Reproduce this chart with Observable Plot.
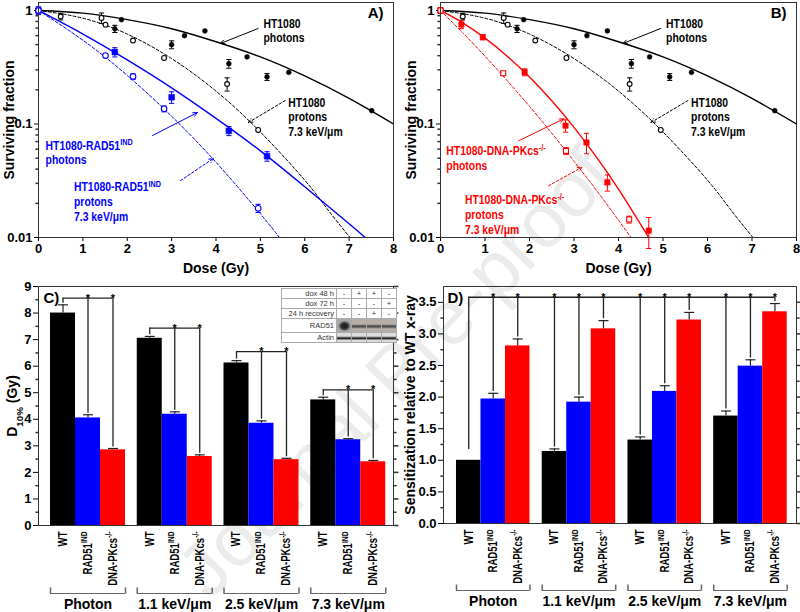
<!DOCTYPE html>
<html><head><meta charset="utf-8">
<script src="https://cdn.jsdelivr.net/npm/d3@7"></script>
<script src="https://cdn.jsdelivr.net/npm/@observablehq/plot@0.6"></script>
<style>
html,body{margin:0;padding:0;background:#fff;}
#fig{position:relative;width:800px;height:612px;overflow:hidden;font-family:'Liberation Sans',Arial,sans-serif;}
.panel{position:absolute;}
#wm{position:absolute;left:395px;top:372px;transform:translate(-50%,-50%) rotate(-46deg);font-size:76px;color:#ebebeb;white-space:nowrap;font-family:'Liberation Sans',Arial,sans-serif;}
#blot{position:absolute;left:281px;top:288px;border-collapse:collapse;background:#fff;font-size:7.5px;color:#333;font-family:'Liberation Sans',Arial,sans-serif;}
#blot td{border:1px solid #aaa;padding:0 2px;height:9px;line-height:9px;text-align:center;width:10px;}
#blot td.lab{text-align:right;width:50px;}
#blot tr.band td{height:13px;}
#blot tr.band2 td{height:9px;}
</style></head><body>
<div id="fig"><div id="wm">Journal Pre-proof</div></div>
<script>
// ---------------- Survival data (panels A, B) ----------------
const wtPhotonDose = [0, 1.72, 1.87, 3.00, 3.29, 3.75, 4.29, 4.70, 5.15, 5.64, 7.51];
const wtPhotonSF   = [1.0, 0.69, 0.83, 0.50, 0.60, 0.66, 0.34, 0.39, 0.26, 0.285, 0.131];
const wtPhotonErr  = [0, 0.05, 0, 0.04, 0, 0, 0.03, 0, 0.018, 0, 0];
const wtProtonDose = [0, 0.50, 1.42, 1.51, 2.13, 2.83, 4.25, 4.95];
const wtProtonSF   = [1.0, 0.885, 0.86, 0.75, 0.544, 0.382, 0.225, 0.0886];
const wtProtonErr  = [0, 0.06, 0.09, 0, 0, 0, 0.03, 0];
const radPhotonDose = [0, 1.72, 3.00, 4.29, 5.15];
const radPhotonSF   = [1.0, 0.43, 0.172, 0.087, 0.052];
const radPhotonErr  = [0.08, 0.04, 0.02, 0.008, 0.005];
const radProtonDose = [0, 1.51, 2.13, 2.83, 4.95];
const radProtonSF   = [1.0, 0.401, 0.262, 0.136, 0.0181];
const radProtonErr  = [0.03, 0.015, 0.015, 0.008, 0.0015];
const dnaPhotonDose = [0, 0.47, 0.95, 1.89, 2.81, 3.28, 3.75, 4.68];
const dnaPhotonSF   = [1.0, 0.752, 0.582, 0.286, 0.0967, 0.0687, 0.0306, 0.0115];
const dnaPhotonErr  = [0.06, 0.06, 0.03, 0.02, 0.012, 0.014, 0.005, 0.0035];
const dnaProtonDose = [0, 1.41, 2.82, 4.24];
const dnaProtonSF   = [1.0, 0.28, 0.058, 0.0144];
const dnaProtonErr  = [0.04, 0.01, 0.004, 0.001];
// fitted curves
const wtPhotonFitDose = [0, 1, 2, 3, 4, 5, 6, 7, 8];
const wtPhotonFitSF   = [1, 0.947, 0.83, 0.69, 0.53, 0.39, 0.265, 0.168, 0.1];
const wtProtonFitDose = [0, 1, 2, 3, 4, 5, 6, 6.5, 7.02];
const wtProtonFitSF   = [1, 0.855, 0.62, 0.377, 0.195, 0.085, 0.032, 0.018, 0.01];
const radPhotonFitDose = [0, 1, 2, 3, 4, 5, 6, 7, 7.36];
const radPhotonFitSF   = [1, 0.62, 0.367, 0.208, 0.112, 0.058, 0.028, 0.0132, 0.01];
const radProtonFitDose = [0, 1, 2, 3, 4, 5, 5.43];
const radProtonFitSF   = [1, 0.547, 0.268, 0.117, 0.046, 0.0162, 0.01];
const dnaPhotonFitDose = [0, 0.5, 1, 1.5, 2, 2.5, 3, 3.5, 4, 4.68];
const dnaPhotonFitSF   = [1, 0.778, 0.571, 0.396, 0.259, 0.16, 0.0934, 0.0514, 0.0267, 0.01];
const dnaProtonFitDose = [0, 0.5, 1, 1.5, 2, 2.5, 3, 3.5, 4, 4.28];
const dnaProtonFitSF   = [1, 0.636, 0.396, 0.2406, 0.143, 0.083, 0.047, 0.0262, 0.0142, 0.01];

// ---------------- Bar data (panels C, D) ----------------
const groups = ["Photon", "1.1 keV/μm", "2.5 keV/μm", "7.3 keV/μm"];
const genotypes = ["WT", "RAD51^{IND}", "DNA-PKcs^{-/-}"];
const barColors = ["#000000", "#0000ff", "#ff0000"];
const d10WT  = [8.00, 7.05, 6.12, 4.73];
const d10RAD = [4.05, 4.19, 3.85, 3.23];
const d10DNA = [2.85, 2.60, 2.48, 2.40];
const d10WTerr  = [0.31, 0.07, 0.09, 0.10];
const d10RADerr = [0.12, 0.09, 0.09, 0.04];
const d10DNAerr = [0.05, 0.06, 0.05, 0.05];
const d10Bracket = [8.56, 7.43, 6.55, 5.11];
const senWT  = [1.00, 1.14, 1.32, 1.70];
const senRAD = [1.97, 1.92, 2.09, 2.49];
const senDNA = [2.81, 3.08, 3.22, 3.35];
const senWTerr  = [0, 0.04, 0.05, 0.08];
const senRADerr = [0.09, 0.08, 0.09, 0.10];
const senDNAerr = [0.11, 0.13, 0.12, 0.13];
const senBracket = 3.58;
const senStubLow = [[1.17, 1.21, 1.40, 1.81], [2.09, 2.03, 2.21, 2.62], [2.95, 3.24, 3.37, 3.51]];

// inset blot table
const blotRows = ["dox 48 h", "dox 72 h", "24 h recovery"];
const blotMarks = [["-", "+", "+", "-"], ["-", "-", "-", "+"], ["-", "-", "+", "-"]];
const blotBands = ["RAD51", "Actin"];

// ---------------- helpers ----------------
const FONT = "'Liberation Sans', Arial, Helvetica, sans-serif";
const NARROW_FAMILY = "'Liberation Sans', Arial, NarrowX";
const nf = size => ({fontFamily: NARROW_FAMILY, fontSize: size, fontWeight: "bold"});

const hLine = {draw(c, s) { const r = Math.sqrt(s / Math.PI); c.moveTo(-r, 0); c.lineTo(r, 0); }};
const vLine = {draw(c, s) { const r = Math.sqrt(s / Math.PI); c.moveTo(0, -r); c.lineTo(0, r); }};

function richify(svg) {
  svg.querySelectorAll("text, tspan").forEach(el => {
    if (el.children.length) return;
    const s = el.textContent;
    if (!/[\^_]\{/.test(s)) return;
    el.textContent = "";
    for (const p of s.split(/([\^_]\{[^}]*\})/)) {
      if (!p) continue;
      const m = p.match(/^([\^_])\{([^}]*)\}$/);
      const t = document.createElementNS("http://www.w3.org/2000/svg", "tspan");
      if (m) {
        t.textContent = m[2];
        t.setAttribute("baseline-shift", m[1] === "^" ? "super" : "sub");
        t.setAttribute("font-size", "70%");
      } else t.textContent = p;
      el.appendChild(t);
    }
  });
  // condensed look: squeeze text of marks that use the narrow family along the reading direction
  svg.querySelectorAll('g[font-family*="NarrowX"] text').forEach(t => {
    let pre = "";
    const xa = t.getAttribute("x");
    if (xa != null && xa !== "" && !isNaN(+xa)) { pre = ` translate(${+xa},0)`; t.removeAttribute("x"); }
    t.setAttribute("transform", `${t.getAttribute("transform") || ""}${pre} scale(0.8,1)`);
  });
}
function place(node, left, top) {
  const d = document.createElement("div");
  d.className = "panel"; d.style.left = left + "px"; d.style.top = top + "px";
  d.appendChild(node);
  richify(node);
  document.getElementById("fig").appendChild(d);
}
const baseStyle = {background: "transparent", fontFamily: FONT, fontSize: "13px", fontWeight: "bold", color: "#000", overflow: "visible"};

// ---------------- survival panels ----------------
function survPanel(o) {
  const marks = [];
  for (const f of o.fits) {
    marks.push(Plot.line(f.dose.map((d, i) => ({x: d, y: f.sf[i]})), {
      x: "x", y: "y", curve: "natural", stroke: f.color, clip: true,
      strokeWidth: f.dashed ? 1 : 1.4, strokeDasharray: f.dashed ? "3,2" : undefined
    }));
  }
  for (const s of o.series) {
    const P = s.dose.map((d, i) => ({x: d, y: s.sf[i], e: s.err[i]}));
    const E = P.filter(d => d.e > 0);
    marks.push(Plot.ruleX(E, {x: "x", y1: d => d.y - d.e, y2: d => d.y + d.e, stroke: s.color, strokeWidth: 1}));
    marks.push(Plot.dot(E, {x: "x", y: d => d.y + d.e, symbol: hLine, r: 2.6, stroke: s.color, strokeWidth: 1}));
    marks.push(Plot.dot(E, {x: "x", y: d => d.y - d.e, symbol: hLine, r: 2.6, stroke: s.color, strokeWidth: 1}));
    marks.push(Plot.dot(P, {x: "x", y: "y", symbol: s.symbol, r: s.r,
      fill: s.filled ? s.color : "white", stroke: s.color, strokeWidth: s.filled ? 0.6 : 1.1}));
  }
  for (const a of o.arrows) {
    marks.push(Plot.arrow([a], {x1: "x1", y1: "y1", x2: "x2", y2: "y2", stroke: a.color, strokeWidth: 1,
      headLength: 7, headAngle: 50, strokeDasharray: a.dashed ? "2.5,2" : undefined}));
  }
  for (const n of o.notes) {
    marks.push(Plot.text([n], {x: "x", y: "y", text: "text", textAnchor: "start", lineAnchor: "top",
      fill: n.color, lineHeight: 1.12, ...nf(13)}));
  }
  // minor log ticks (outward, left)
  const minors = [2, 3, 4, 5, 6, 7, 8, 9].flatMap(k => [k * 0.01, k * 0.1]);
  marks.push(Plot.dot(minors, {x: 0, y: d => d, dx: -1.5, symbol: hLine, r: 1.6, stroke: "#333"}));
  marks.push(Plot.text(["Surviving fraction"], {frameAnchor: "left", text: d => d, rotate: -90, textAnchor: "middle", lineAnchor: "middle", dx: -29, fontSize: 14}));
  marks.push(Plot.text(["Dose (Gy)"], {frameAnchor: "bottom", text: d => d, textAnchor: "middle", lineAnchor: "middle", dy: 31, fontSize: 14}));
  marks.push(Plot.text([o.tag], {frameAnchor: "top-right", text: d => d, dx: -10, dy: 5, fontSize: 15}));
  marks.push(Plot.frame({stroke: "#333", strokeWidth: 1}));
  return Plot.plot({
    width: 400, height: 285, marginLeft: o.ml, marginRight: o.mr, marginTop: 2, marginBottom: 48,
    style: baseStyle,
    x: {domain: [0, 8], ticks: d3.range(0, 9), tickSize: 4, tickPadding: 2, label: null},
    y: {type: "log", domain: [0.01, 1.176], ticks: [0.01, 0.1, 1], tickFormat: d => String(d), tickSize: 4, tickPadding: 2, label: null},
    marks
  });
}

const BLACK = "#000", BLUE = "#0000ff", RED = "#ff0000";
const wtSeries = [
  {dose: wtPhotonDose, sf: wtPhotonSF, err: wtPhotonErr, color: BLACK, filled: true, symbol: "circle", r: 2.4},
  {dose: wtProtonDose, sf: wtProtonSF, err: wtProtonErr, color: BLACK, filled: false, symbol: "circle", r: 2.4}
];
const wtFits = [
  {dose: wtPhotonFitDose, sf: wtPhotonFitSF, color: BLACK, dashed: false},
  {dose: wtProtonFitDose, sf: wtProtonFitSF, color: BLACK, dashed: true}
];
const wtNotes = [
  {x: 5.07, y: 0.873, text: "HT1080\nphotons", color: BLACK},
  {x: 5.63, y: 0.175, text: "HT1080\nprotons\n7.3 keV/μm", color: BLACK}
];
const wtArrows = [
  {x1: 4.95, y1: 0.694, x2: 4.10, y2: 0.512, color: BLACK, dashed: false},
  {x1: 5.56, y1: 0.161, x2: 4.73, y2: 0.103, color: BLACK, dashed: true}
];

place(survPanel({
  ml: 38, mr: 7, tag: "A)",
  fits: [...wtFits,
    {dose: radPhotonFitDose, sf: radPhotonFitSF, color: BLUE, dashed: false},
    {dose: radProtonFitDose, sf: radProtonFitSF, color: BLUE, dashed: true}],
  series: [...wtSeries,
    {dose: radPhotonDose, sf: radPhotonSF, err: radPhotonErr, color: BLUE, filled: true, symbol: "square", r: 3.2},
    {dose: radProtonDose, sf: radProtonSF, err: radProtonErr, color: BLUE, filled: false, symbol: "circle", r: 2.8}],
  notes: [...wtNotes,
    {x: 0.16, y: 0.073, text: "HT1080-RAD51^{IND}\nphotons", color: BLUE},
    {x: 0.80, y: 0.0314, text: "HT1080-RAD51^{IND}\nprotons\n7.3 keV/μm", color: BLUE}],
  arrows: [...wtArrows,
    {x1: 2.57, y1: 0.0792, x2: 3.58, y2: 0.126, color: BLUE, dashed: false},
    {x1: 3.20, y1: 0.0317, x2: 3.94, y2: 0.0497, color: BLUE, dashed: true}]
}), 0, 0);

place(survPanel({
  ml: 40, mr: 4, tag: "B)",
  fits: [...wtFits,
    {dose: dnaPhotonFitDose, sf: dnaPhotonFitSF, color: RED, dashed: false},
    {dose: dnaProtonFitDose, sf: dnaProtonFitSF, color: RED, dashed: true}],
  series: [...wtSeries,
    {dose: dnaPhotonDose, sf: dnaPhotonSF, err: dnaPhotonErr, color: RED, filled: true, symbol: "square", r: 3.0},
    {dose: dnaProtonDose, sf: dnaProtonSF, err: dnaProtonErr, color: RED, filled: false, symbol: "square", r: 2.8}],
  notes: [...wtNotes,
    {x: 0.13, y: 0.0658, text: "HT1080-DNA-PKcs^{-/-}\nphotons", color: RED},
    {x: 0.55, y: 0.0241, text: "HT1080-DNA-PKcs^{-/-}\nprotons\n7.3 keV/μm", color: RED}],
  arrows: [...wtArrows,
    {x1: 1.76, y1: 0.0712, x2: 2.77, y2: 0.111, color: RED, dashed: false},
    {x1: 2.43, y1: 0.0286, x2: 3.18, y2: 0.0416, color: RED, dashed: true}]
}), 400, 0);

// ---------------- bar panels ----------------
function barPanel(o) {
  const rows = [];
  groups.forEach((g, gi) => genotypes.forEach((t, ti) => rows.push({
    gi, ti, pos: gi * o.step + ti + 0.5, v: o.vals[ti][gi], e: o.errs[ti][gi], fill: barColors[ti], label: t
  })));
  const E = rows.filter(d => d.e > 0);
  const [x0, x1] = o.xDomain;
  const marks = [
    Plot.rectY(rows, {x1: d => d.pos - 0.5, x2: d => d.pos + 0.5, y1: 0, y2: "v", fill: "fill"}),
    Plot.ruleX(E, {x: "pos", y1: "v", y2: d => d.v + d.e, stroke: "#222", strokeWidth: 1.2}),
    Plot.dot(E, {x: "pos", y: d => d.v + d.e, symbol: hLine, r: 5, stroke: "#222", strokeWidth: 1.2}),
    ...o.extra(rows),
    Plot.text(rows, {x: "pos", y: 0, text: "label", rotate: -90, textAnchor: "end", lineAnchor: "middle", dy: 6, ...nf(12)}),
    Plot.text(groups, {x: (d, i) => i * o.step + 1.5, y: 0, text: d => d, dy: o.groupDy, fontSize: 14}),
    Plot.ruleY(groups, {x1: (d, i) => i * o.step, x2: (d, i) => i * o.step + 3, y: 0, dy: o.brDy, stroke: "#666", strokeWidth: 1}),
    Plot.dot(groups.flatMap((d, i) => [i * o.step, i * o.step + 3]), {x: d => d, y: 0, dy: o.brDy - 3, symbol: vLine, r: 3, stroke: "#666"}),
    Plot.dot(o.minor, {x: x0, y: d => d, dx: -1.5, symbol: hLine, r: 1.6, stroke: "#333"}),
    Plot.dot(o.minor, {x: x1, y: d => d, dx: 1.5, symbol: hLine, r: 1.6, stroke: "#333"}),
    Plot.dot(o.ticks, {x: x1, y: d => d, dx: 2.5, symbol: hLine, r: 2.5, stroke: "#333"}),
    Plot.text([o.title], {frameAnchor: "left", text: d => d, rotate: -90, textAnchor: "middle", lineAnchor: "middle", dx: o.titleDx, fontSize: 14}),
    Plot.text([o.tag], {frameAnchor: "top-left", text: d => d, dx: o.tagDx, dy: 6, fontSize: 15}),
    Plot.frame({stroke: "#333", strokeWidth: 1})
  ];
  return Plot.plot({
    width: 400, height: 332, marginLeft: o.ml, marginRight: o.mr, marginTop: 6, marginBottom: o.mb,
    style: baseStyle,
    color: {type: "identity"},
    x: {axis: null, domain: o.xDomain},
    y: {domain: o.yDomain, ticks: o.ticks, tickFormat: o.tickFormat, tickSize: 5, tickPadding: 2, label: null},
    marks
  });
}

const stepC = 3.47;
place(barPanel({
  ml: 38, mr: 7, mb: 87, step: stepC, xDomain: [-0.48, 13.72], yDomain: [0, 9],
  ticks: d3.range(0, 10), minor: d3.range(0.5, 9, 1), tickFormat: d => String(d),
  vals: [d10WT, d10RAD, d10DNA], errs: [d10WTerr, d10RADerr, d10DNAerr],
  title: "D_{10%} (Gy)", titleDx: -26, tag: "C)", tagDx: 5, groupDy: 79, brDy: 68,
  extra: rows => [
    Plot.ruleY(groups, {x1: (d, i) => i * stepC + 0.5, x2: (d, i) => i * stepC + 2.5, y: (d, i) => d10Bracket[i], stroke: "#222", strokeWidth: 1.3}),
    Plot.ruleX(rows, {x: "pos", y1: r => r.v + r.e + 0.06, y2: r => d10Bracket[r.gi], stroke: "#222", strokeWidth: 1.3}),
    Plot.text(rows.filter(r => r.ti > 0), {x: "pos", y: r => d10Bracket[r.gi], text: () => "*", fill: "#000", fontSize: 11})
  ]
}), 0, 280);

const stepD = 3.5;
place(barPanel({
  ml: 43, mr: 4, mb: 89, step: stepD, xDomain: [-0.53, 13.88], yDomain: [0, 3.75],
  ticks: d3.range(0, 3.51, 0.5), minor: d3.range(0.25, 3.75, 0.5), tickFormat: d3.format(".1f"),
  vals: [senWT, senRAD, senDNA], errs: [senWTerr, senRADerr, senDNAerr],
  title: "Sensitization relative to WT x-ray", titleDx: -33, tag: "D)", tagDx: 4, groupDy: 78, brDy: 67,
  extra: rows => [
    Plot.ruleY([senBracket], {x1: rows[0].pos, x2: rows[rows.length - 1].pos, y: d => d, stroke: "#222", strokeWidth: 1.3}),
    Plot.ruleX(rows, {x: "pos", y1: r => senStubLow[r.ti][r.gi], y2: senBracket, stroke: "#222", strokeWidth: 1.3}),
    Plot.text(rows.slice(1), {x: "pos", y: senBracket, text: () => "*", fill: "#000", fontSize: 11})
  ]
}), 400, 280);

// ---------------- inset blot (panel C) ----------------
(function () {
  const t = document.createElement("table"); t.id = "blot";
  blotRows.forEach((lab, r) => {
    const tr = t.insertRow();
    const c = tr.insertCell(); c.className = "lab"; c.textContent = lab;
    blotMarks[r].forEach(m => { const td = tr.insertCell(); td.textContent = m; });
  });
  blotBands.forEach((lab, r) => {
    const tr = t.insertRow(); tr.className = r === 0 ? "band" : "band2";
    const c = tr.insertCell(); c.className = "lab"; c.textContent = lab;
    for (let k = 0; k < 4; k++) {
      const td = tr.insertCell();
      td.style.padding = "0";
      if (r === 0) {
        td.style.background = k === 0
          ? "radial-gradient(ellipse 45% 40% at 50% 50%, #111 0%, #333 60%, #aaa 100%)"
          : "linear-gradient(#b8b0a8 0%, #b8b0a8 38%, #444 48%, #555 58%, #b8b0a8 70%, #b8b0a8 100%)";
      } else {
        td.style.background = "linear-gradient(#ddd 0%, #ddd 35%, #222 45%, #222 60%, #ddd 72%, #ddd 100%)";
      }
    }
  });
  document.getElementById("fig").appendChild(t);
})();
</script></body></html>
